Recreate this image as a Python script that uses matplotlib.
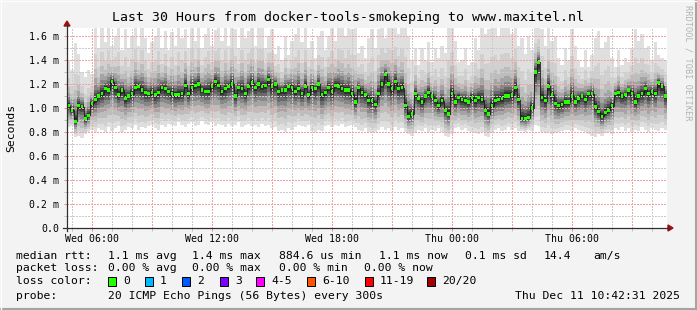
import matplotlib

matplotlib.use("Agg")
import matplotlib.pyplot as plt
import numpy as np
from matplotlib.lines import Line2D
from matplotlib.patches import Polygon, Rectangle

W, H = 697, 310
MONO = "DejaVu Sans Mono"

# time axis: hours since Wed 00:00, 10 minute steps
START_HOUR = 4.75
STEP_HOURS = 1 / 6

median_rtt = [
    1.02, 0.98, 0.89, 1.02, 1.01, 0.91, 0.94, 1.04, 1.07, 1.10,
    1.12, 1.16, 1.15, 1.22, 1.17, 1.11, 1.15, 1.08, 1.10, 1.12,
    1.17, 1.18, 1.15, 1.13, 1.12, 1.13, 1.11, 1.13, 1.17, 1.16,
    1.14, 1.12, 1.11, 1.11, 1.12, 1.19, 1.12, 1.17, 1.19, 1.20,
    1.15, 1.14, 1.14, 1.18, 1.22, 1.19,
    1.14, 1.16, 1.18, 1.20, 1.10, 1.17, 1.16, 1.12, 1.18, 1.21,
    1.17, 1.20, 1.18, 1.19, 1.24, 1.18, 1.20, 1.14, 1.15, 1.15,
    1.18, 1.17, 1.14, 1.16, 1.12, 1.18, 1.11, 1.17, 1.16, 1.20,
    1.11, 1.13, 1.17, 1.14, 1.19, 1.18, 1.16, 1.15, 1.15, 1.12,
    1.05, 1.17, 1.13, 1.11, 1.06,
    1.06, 1.03, 1.12, 1.20, 1.28, 1.20, 1.16, 1.22, 1.16, 1.17,
    1.02, 0.93, 0.95, 1.12, 1.08, 1.05, 1.10, 1.13, 1.10, 1.06,
    1.02, 1.06, 0.98, 0.95, 1.12, 1.05, 1.09, 1.07, 1.06, 1.05,
    1.09, 1.06, 1.09, 1.07, 0.98, 0.95, 1.02, 1.06, 1.07, 1.08,
    1.10, 1.10, 1.11, 1.17, 1.07,
    0.91, 0.91, 0.92, 1.00, 1.30, 1.38, 1.09, 1.06, 1.18, 1.11,
    1.04, 1.02, 1.03, 1.05, 1.05, 1.10, 1.05, 1.08, 1.10, 1.07,
    1.12, 1.12, 1.01, 0.97, 0.93, 0.96, 0.98, 1.02, 1.12, 1.13,
    1.10, 1.11, 1.15, 1.12, 1.05, 1.10, 1.12, 1.16, 1.12, 1.14,
    1.12, 1.21, 1.18, 1.10,
]

ping_max = [
    1.40, 1.32, 1.54, 1.45, 1.30, 1.26, 1.32, 1.28, 1.70, 1.50,
    1.70, 1.55, 1.70, 1.52, 1.60, 1.70, 1.48, 1.66, 1.50, 1.60,
    1.70, 1.52, 1.70, 1.58, 1.46, 1.55, 1.60, 1.70, 1.50, 1.64,
    1.48, 1.63, 1.52, 1.70, 1.58, 1.66, 1.50, 1.70, 1.56, 1.70,
    1.50, 1.62, 1.70, 1.52, 1.65, 1.70,
    1.56, 1.70, 1.52, 1.70, 1.66, 1.50, 1.70, 1.58, 1.64, 1.70,
    1.52, 1.68, 1.70, 1.50, 1.60, 1.66, 1.45, 1.52, 1.40, 1.60,
    1.44, 1.56, 1.62, 1.70, 1.55, 1.68, 1.50, 1.56, 1.42, 1.60,
    1.64, 1.48, 1.60, 1.70, 1.56, 1.70, 1.70, 1.60, 1.70, 1.66,
    1.70, 1.46, 1.52, 1.42, 1.58,
    1.66, 1.50, 1.66, 1.70, 1.58, 1.70, 1.70, 1.70, 1.62, 1.70,
    1.70, 1.60, 1.40, 1.50, 1.36, 1.50, 1.40, 1.55, 1.38, 1.50,
    1.42, 1.52, 1.46, 1.70, 1.70, 1.56, 1.38, 1.40, 1.50, 1.36,
    1.38, 1.58, 1.48, 1.70, 1.62, 1.66, 1.70, 1.70, 1.60, 1.70,
    1.70, 1.70, 1.62, 1.70, 1.52,
    1.58, 1.45, 1.60, 1.48, 1.70, 1.70, 1.66, 1.52, 1.70, 1.56,
    1.60, 1.42, 1.36, 1.50, 1.40, 1.66, 1.52, 1.40, 1.34, 1.48,
    1.34, 1.44, 1.58, 1.64, 1.50, 1.55, 1.60, 1.42, 1.34, 1.48,
    1.36, 1.42, 1.38, 1.50, 1.66, 1.56, 1.62, 1.50, 1.52, 1.40,
    1.55, 1.44, 1.42, 1.40,
]

ping_min = [
    0.84, 0.85, 0.76, 0.77, 0.75, 0.78, 0.80, 0.82, 0.80, 0.83,
    0.82, 0.80, 0.84, 0.81, 0.83, 0.85, 0.80, 0.82, 0.84, 0.83,
    0.86, 0.82, 0.84, 0.83, 0.85, 0.86, 0.83, 0.82, 0.86, 0.84,
    0.87, 0.86, 0.85, 0.88, 0.86, 0.84, 0.87, 0.88, 0.85, 0.86,
    0.89, 0.87, 0.86, 0.88, 0.85, 0.87,
    0.86, 0.84, 0.87, 0.85, 0.86, 0.88, 0.84, 0.86, 0.87, 0.85,
    0.86, 0.84, 0.87, 0.85, 0.86, 0.83, 0.84, 0.81, 0.82, 0.80,
    0.83, 0.82, 0.84, 0.86, 0.85, 0.84, 0.86, 0.81, 0.80, 0.82,
    0.81, 0.85, 0.86, 0.84, 0.86, 0.85, 0.87, 0.84, 0.85, 0.86,
    0.84, 0.82, 0.81, 0.83, 0.80,
    0.79, 0.80, 0.82, 0.84, 0.82, 0.83, 0.81, 0.84, 0.82, 0.83,
    0.80, 0.78, 0.77, 0.79, 0.82, 0.81, 0.83, 0.80, 0.82, 0.81,
    0.83, 0.80, 0.77, 0.76, 0.78, 0.83, 0.84, 0.82, 0.83, 0.81,
    0.80, 0.79, 0.78, 0.80, 0.77, 0.76, 0.80, 0.82, 0.83, 0.81,
    0.82, 0.84, 0.82, 0.83, 0.81,
    0.81, 0.80, 0.82, 0.81, 0.86, 0.85, 0.80, 0.79, 0.80, 0.78,
    0.79, 0.80, 0.81, 0.82, 0.82, 0.81, 0.83, 0.82, 0.81, 0.80,
    0.78, 0.77, 0.76, 0.78, 0.77, 0.79, 0.80, 0.78, 0.83, 0.82,
    0.84, 0.81, 0.83, 0.80, 0.82, 0.81, 0.84, 0.82, 0.80, 0.83,
    0.82, 0.81, 0.83, 0.82,
]

x_tick_hours = [6, 12, 18, 24, 30]
x_tick_labels = ["Wed 06:00", "Wed 12:00", "Wed 18:00", "Thu 00:00", "Thu 06:00"]
y_ticks = [0.0, 0.2, 0.4, 0.6, 0.8, 1.0, 1.2, 1.4, 1.6]
y_tick_labels = ["0.0", "0.2 m", "0.4 m", "0.6 m", "0.8 m", "1.0 m", "1.2 m", "1.4 m", "1.6 m"]

loss_labels = ["0", "1", "2", "3", "4-5", "6-10", "11-19", "20/20"]
loss_colors = ["#26ff00", "#00b8ff", "#0059ff", "#7e00ff", "#ff00ff", "#ff5500", "#ff0000", "#a10000"]

rtt_stats = ["1.1 ms avg", "1.4 ms max", "884.6 us min", "1.1 ms now", "0.1 ms sd", "14.4", "am/s"]
loss_stats = ["0.00 % avg", "0.00 % max", "0.00 % min", "0.00 % now"]

# smoke shades, outer to inner (fraction of spread above / below the median)
SMOKE_BANDS = [
    (1.00, 1.00, "#dfdfdf"),
    (0.60, 0.85, "#d0d0d0"),
    (0.40, 0.68, "#bdbdbd"),
    (0.28, 0.52, "#a4a4a4"),
    (0.19, 0.38, "#888888"),
    (0.13, 0.27, "#6a6a6a"),
    (0.085, 0.18, "#4c4c4c"),
    (0.05, 0.10, "#303030"),
]

GRID_MAJOR = "#f0a4a4"
GRID_MINOR = "#cbcbcb"


def px(x, y):
    return x / W, 1 - y / H


def draw_smoke(ax, edges, med, hi, lo):
    for fu, fl, color in SMOKE_BANDS:
        top = med + fu * (hi - med)
        bot = med - fl * (med - lo)
        ax.fill_between(edges, np.append(bot, bot[-1]), np.append(top, top[-1]),
                        step="post", color=color, linewidth=0, zorder=1)


def draw_grid(ax):
    for h in range(5, 35):
        ax.axvline(h, color=GRID_MAJOR if h % 3 == 0 else GRID_MINOR, lw=0.75,
                   ls=(0, (1, 1)), antialiased=False, zorder=2)
    for i in range(1, 17):
        ax.axhline(i / 10, color=GRID_MAJOR if i % 2 == 0 else GRID_MINOR, lw=0.75,
                   ls=(0, (1, 1)), antialiased=False, zorder=2)


def draw_axis_lines(fig):
    fig.add_artist(Line2D(*zip(px(63, 228), px(669, 228)), color="#303030", lw=0.9))
    fig.add_artist(Line2D(*zip(px(67, 231), px(67, 25)), color="#303030", lw=0.9))
    fig.add_artist(Polygon([px(668, 225), px(668, 231), px(673, 228)], closed=True,
                           color="#9a1010", transform=fig.transFigure))
    fig.add_artist(Polygon([px(64, 26), px(70, 26), px(67, 21)], closed=True,
                           color="#9a1010", transform=fig.transFigure))
    # frame of the image
    fig.add_artist(Line2D(*zip(px(0, 309), px(697, 309)), color="#a4a4a4", lw=1.5))
    fig.add_artist(Line2D(*zip(px(696, 0), px(696, 310)), color="#a4a4a4", lw=1.5))
    fig.add_artist(Line2D(*zip(px(0, 0.5), px(697, 0.5)), color="#fdfdfd", lw=1))
    fig.add_artist(Line2D(*zip(px(0.5, 0), px(0.5, 310)), color="#fdfdfd", lw=1))


def draw_legend(fig):
    def put(x, y, s, **kw):
        fig.text(*px(x, y), s, family=MONO, fontsize=8.2, va="center", **kw)

    put(16, 256, "median rtt:")
    for x, s in zip([107.5, 192, 279, 379, 465, 544, 593], rtt_stats):
        put(x, 256, s)

    put(16, 268, "packet loss:")
    for x, s in zip([107.5, 192.5, 279, 364.5], loss_stats):
        put(x, 268, s)

    put(16, 281, "loss color:")
    box_x = [108, 145, 182, 220, 256, 307, 365, 427]
    for bx, lab, col in zip(box_x, loss_labels, loss_colors):
        x0, y0 = px(bx, 285.5)
        fig.add_artist(Rectangle((x0, y0), 8 / W, 9 / H, transform=fig.transFigure,
                                 facecolor=col, edgecolor="#000000", lw=0.7))
        put(bx + 15, 281, lab)

    put(16, 296, "probe:")
    put(107.5, 296, "20 ICMP Echo Pings (56 Bytes) every 300s")
    put(680, 296, "Thu Dec 11 10:42:31 2025", ha="right")


def main():
    med = np.array(median_rtt)
    hi = np.array(ping_max)
    lo = np.array(ping_min)
    n = len(med)
    assert len(hi) == n and len(lo) == n
    edges = START_HOUR + STEP_HOURS * np.arange(n + 1)
    t = edges[:-1]

    fig = plt.figure(figsize=(W / 100, H / 100), dpi=100, facecolor="#f3f3f3")
    ax = fig.add_axes([67 / W, (H - 228) / H, 600 / W, 200 / H])
    ax.set_facecolor("#ffffff")
    ax.set_xlim(edges[0], edges[-1])
    ax.set_ylim(0, 1.6667)

    draw_smoke(ax, edges, med, hi, lo)
    draw_grid(ax)

    # median: dark step line with green blocks per step
    ax.step(edges, np.append(med, med[-1]), where="post", color="#1a1a1a", lw=0.6, zorder=3)
    ax.bar(t + STEP_HOURS * 0.1, 0.026, width=STEP_HOURS * 0.8, bottom=med - 0.013,
           align="edge", color=loss_colors[0], linewidth=0, zorder=4)

    for s in ax.spines.values():
        s.set_visible(False)
    ax.set_xticks(x_tick_hours)
    ax.set_xticklabels(x_tick_labels, family=MONO, fontsize=7.1)
    ax.set_xticks(range(5, 35), minor=True)
    ax.set_yticks(y_ticks)
    ax.set_yticklabels(y_tick_labels, family=MONO, fontsize=7.1)
    ax.set_yticks(np.arange(0.1, 1.65, 0.1), minor=True)
    ax.tick_params(axis="x", which="major", length=2.5, width=0.7, color="#e88888", pad=2)
    ax.tick_params(axis="x", which="minor", length=2, width=0.7, color="#c0c0c0")
    ax.tick_params(axis="y", which="major", length=2.5, width=0.7, color="#e88888", pad=3)
    ax.tick_params(axis="y", which="minor", length=2, width=0.7, color="#c0c0c0")

    draw_axis_lines(fig)

    fig.text(*px(348, 18), "Last 30 Hours from docker-tools-smokeping to www.maxitel.nl",
             family=MONO, fontsize=9.5, ha="center", va="center")
    fig.text(*px(11, 128), "Seconds", family=MONO, fontsize=8.2, rotation=90,
             ha="center", va="center")
    fig.text(*px(688, 5), "RRDTOOL / TOBI OETIKER", family=MONO, fontsize=6.2,
             rotation=270, ha="center", va="top", color="#b4b4b4")

    draw_legend(fig)
    fig.savefig("out.png", dpi=100, facecolor=fig.get_facecolor())


if __name__ == "__main__":
    main()
